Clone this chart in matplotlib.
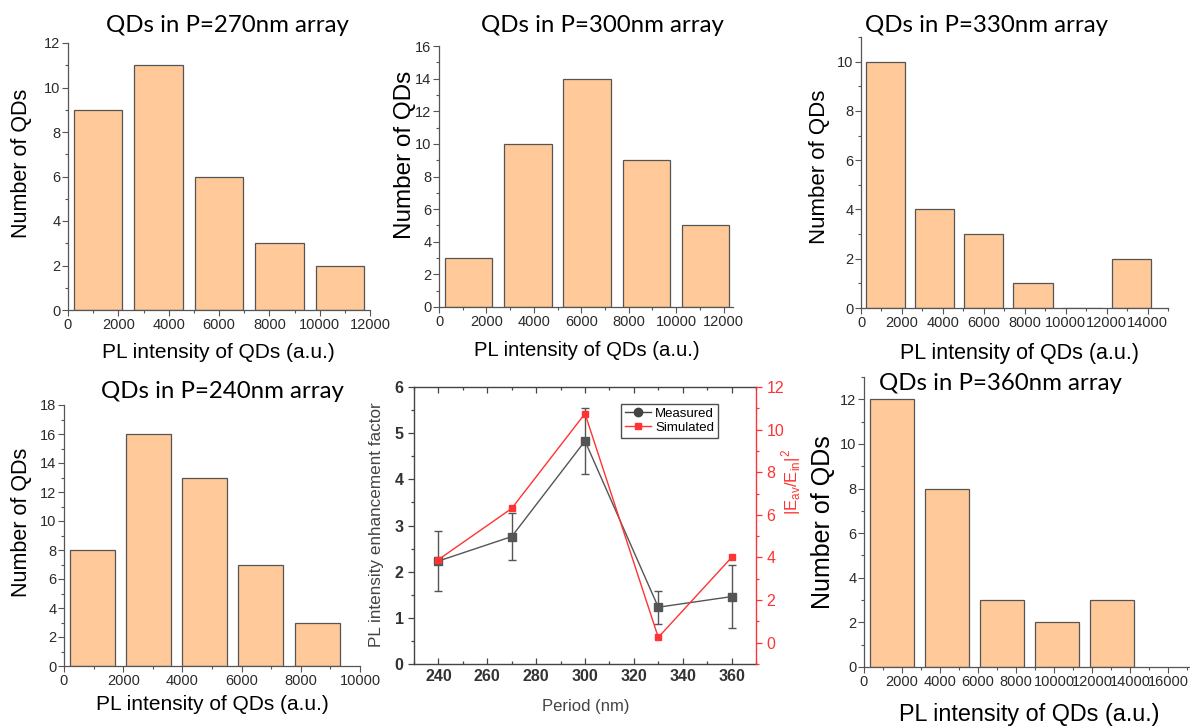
import numpy as np
import matplotlib
matplotlib.use("Agg")
import matplotlib.pyplot as plt
from matplotlib.ticker import MultipleLocator
from matplotlib.lines import Line2D

plt.rcParams['font.family'] = ['Liberation Sans', 'DejaVu Sans']
plt.rcParams['mathtext.fontset'] = 'custom'
plt.rcParams['mathtext.rm'] = 'Liberation Sans'

# histogram data (bin centres in a.u., counts)
c270 = [1200, 3600, 6000, 8400, 10800]
n270 = [9, 11, 6, 3, 2]
c300 = [1250, 3750, 6250, 8750, 11250]
n300 = [3, 10, 14, 9, 5]
c330 = [1200, 3600, 6000, 8400, 10800, 13200]
n330 = [10, 4, 3, 1, 0, 2]
c240 = [950, 2850, 4750, 6650, 8550]
n240 = [8, 16, 13, 7, 3]
c360 = [1450, 4350, 7250, 10150, 13050]
n360 = [12, 8, 3, 2, 3]

# enhancement vs period
period = [240, 270, 300, 330, 360]
measured = [2.23, 2.76, 4.83, 1.23, 1.46]
meas_err = [0.65, 0.50, 0.72, 0.36, 0.69]
simulated = [3.9, 6.3, 10.75, 0.25, 4.0]

W, H = 1190, 726
fig = plt.figure(figsize=(W / 100, H / 100), dpi=100)

def box(l, t, r, b):
    return [l / W, 1 - b / H, (r - l) / W, (b - t) / H]

def fx(x):
    return x / W

def fy(y):
    return 1 - y / H

bar_col = '#FFC999'
tick_col = '#2a2a2a'
title_font = ['Lato', 'DejaVu Sans']

def hist(rect, centers, counts, width, xlim, ylim, xstep, ystep):
    ax = fig.add_axes(box(*rect))
    ax.bar(centers, counts, width=width, color=bar_col, edgecolor='#555555', linewidth=0.9)
    ax.set_xlim(*xlim)
    ax.set_ylim(*ylim)
    ax.xaxis.set_major_locator(MultipleLocator(xstep))
    ax.xaxis.set_minor_locator(MultipleLocator(xstep / 2))
    ax.yaxis.set_major_locator(MultipleLocator(ystep))
    ax.yaxis.set_minor_locator(MultipleLocator(ystep / 2))
    for s in ['top', 'right']:
        ax.spines[s].set_visible(False)
    for s in ['left', 'bottom']:
        ax.spines[s].set_color('#555555')
        ax.spines[s].set_linewidth(0.9)
    ax.tick_params(which='major', direction='out', length=4, width=0.8, colors='#555555',
                   labelcolor=tick_col, labelsize=10.5, pad=1.5)
    ax.tick_params(which='minor', direction='out', length=2.5, width=0.8, colors='#555555')
    return ax

hist((68, 43, 370, 310), c270, n270, 1920, (0, 12000), (0, 12), 2000, 2)
hist((439, 46, 733, 307), c300, n300, 2000, (0, 12400), (0, 16), 2000, 2)
hist((861, 37, 1168, 308), c330, n330, 1920, (0, 15000), (0, 11), 2000, 2)
hist((64, 405, 360, 666), c240, n240, 1520, (0, 10000), (0, 18), 2000, 2)
hist((864, 377, 1190, 667), c360, n360, 2320, (0, 17150), (0, 13), 2000, 2)

# titles
titles = [('QDs in P=270nm array', 227, 26), ('QDs in P=300nm array', 602, 26),
          ('QDs in P=330nm array', 986, 26), ('QDs in P=240nm array', 222, 392),
          ('QDs in P=360nm array', 1000, 384)]
for t, x, y in titles:
    fig.text(fx(x), fy(y), t, family=title_font, fontsize=17.3, ha='center', va='center')

# axis labels of histograms
ylabs = [(22, 163, 15.5), (405, 155, 17.5), (820, 167, 16), (22, 522, 15.5), (823, 522, 18)]
for x, y, s in ylabs:
    fig.text(fx(x), fy(y), 'Number of QDs', fontsize=s, rotation=90, ha='center', va='center')
xlabs = [(218, 352, 15), (587, 350, 14.6), (1019, 354, 15.5), (212, 705, 15), (1029, 714, 16.8)]
for x, y, s in xlabs:
    fig.text(fx(x), fy(y), 'PL intensity of QDs (a.u.)', fontsize=s, ha='center', va='center')

# centre panel
ax = fig.add_axes(box(414, 387, 756, 664))
ax.errorbar(period, measured, yerr=meas_err, color='#555555', marker='s', markersize=6,
            linewidth=1.0, elinewidth=1.0, capsize=3, capthick=1.0, zorder=3)
ax.set_xlim(230, 370)
ax.set_ylim(0, 6)
ax.xaxis.set_major_locator(MultipleLocator(20))
ax.xaxis.set_minor_locator(MultipleLocator(10))
ax.yaxis.set_major_locator(MultipleLocator(1))
ax.yaxis.set_minor_locator(MultipleLocator(0.5))
for s in ['left', 'bottom', 'top']:
    ax.spines[s].set_color('#444444')
    ax.spines[s].set_linewidth(1.0)
ax.spines['right'].set_visible(False)
ax.tick_params(axis='both', which='major', length=4, width=0.9, colors='#444444',
               labelcolor='#333333', labelsize=11.5)
ax.tick_params(axis='x', which='both', direction='in', top=True)
ax.tick_params(axis='y', which='both', direction='out')
ax.tick_params(which='minor', length=2.5, width=0.9, colors='#444444')
for lab in ax.get_xticklabels() + ax.get_yticklabels():
    lab.set_fontweight('bold')

ax2 = ax.twinx()
ax2.plot(period, simulated, color='#FF3333', marker='s', markersize=5, linewidth=1.0)
ax2.set_ylim(-1, 12)
ax2.yaxis.set_major_locator(MultipleLocator(2))
ax2.yaxis.set_minor_locator(MultipleLocator(1))
for s in ['left', 'bottom', 'top']:
    ax2.spines[s].set_visible(False)
ax2.spines['right'].set_color('#FF3333')
ax2.spines['right'].set_linewidth(1.0)
ax2.tick_params(axis='y', which='major', direction='out', length=4, width=0.9,
                colors='#FF3333', labelsize=11.5)
ax2.tick_params(axis='y', which='minor', direction='out', length=2.5, width=0.9, colors='#FF3333')

handles = [Line2D([], [], color='#444444', marker='o', markersize=6, linewidth=1.0),
           Line2D([], [], color='#FF3333', marker='s', markersize=5, linewidth=1.0)]
leg = ax.legend(handles, ['Measured', 'Simulated'], loc='upper left', bbox_to_anchor=(0.605, 0.94),
                borderaxespad=0, fontsize=9.5, handlelength=2.0, handletextpad=0.3,
                borderpad=0.3, labelspacing=0.15, frameon=True, fancybox=False)
leg.get_frame().set_edgecolor('#222222')
leg.get_frame().set_linewidth(1.0)

fig.text(fx(586), fy(706), 'Period (nm)', fontsize=12, color='#444444', ha='center', va='center')
fig.text(fx(377), fy(525), 'PL intensity enhancement factor', fontsize=12.3, color='#444444',
         rotation=90, ha='center', va='center')
fig.text(fx(791), fy(482), r'|E$_{\mathrm{av}}$/E$_{\mathrm{in}}$|$^{2}$', fontsize=12,
         color='#FF3333', rotation=90, ha='center', va='center')

fig.savefig('out.png', dpi=100)
